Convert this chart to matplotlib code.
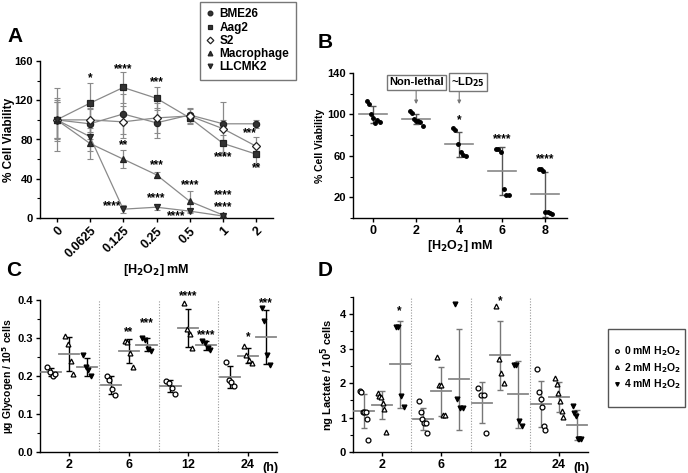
import numpy as np
import matplotlib
matplotlib.use('Agg')
import matplotlib.pyplot as plt
from matplotlib.ticker import MultipleLocator, FormatStrFormatter
from matplotlib.patches import Rectangle

plt.rcParams['font.family'] = ['Liberation Sans', 'DejaVu Sans']
plt.rcParams['font.weight'] = 'bold'
plt.rcParams['axes.labelweight'] = 'bold'
plt.rcParams['font.size'] = 8

# ---------------- Panel A data ----------------
a_conc = ['0', '0.0625', '0.125', '0.25', '0.5', '1', '2']
a_series = ['BME26', 'Aag2', 'S2', 'Macrophage', 'LLCMK2']
a_mean = {
    'BME26':      [100, 96, 106, 97, 105, 96, 96],
    'Aag2':       [100, 117, 133, 122, 102, 76, 65],
    'S2':         [100, 100, 98, 102, 104, 91, 73],
    'Macrophage': [100, 76, 60, 44, 17, 3, np.nan],
    'LLCMK2':     [100, 83, 9, 11, 7, 2, np.nan],
}
a_err = {
    'BME26':      [18, 15, 20, 15, 6, 4, 4],
    'Aag2':       [32, 21, 16, 12, 5, 9, 9],
    'S2':         [20, 12, 16, 15, 8, 27, 10],
    'Macrophage': [22, 16, 9, 3, 11, 1, 0],
    'LLCMK2':     [18, 15, 4, 3, 2, 1, 0],
}
a_markers = {'BME26': 'o', 'Aag2': 's', 'S2': 'D', 'Macrophage': '^', 'LLCMK2': 'v'}
# (category position, y, text, ha)
a_stars = [
    (1, 143, '*', 'center'), (2, 152, '****', 'center'), (3, 138, '***', 'center'),
    (2, 74, '**', 'center'), (3, 54, '***', 'center'), (4, 33, '****', 'center'),
    (1.95, 12, '****', 'right'), (3, 20, '****', 'center'), (3.6, 2, '****', 'center'),
    (5, 23, '****', 'center'), (5, 11, '****', 'center'), (5, 62, '****', 'center'),
    (5.8, 86, '***', 'center'), (6, 51, '**', 'center'),
]

# ---------------- Panel B data ----------------
b_conc = [0, 2, 4, 6, 8]
b_points = [
    [113, 110, 100, 97, 92, 95, 93],
    [103, 101, 96, 94, 94, 93, 89],
    [87, 85, 71, 64, 61, 60],
    [67, 67, 64, 28, 22, 22],
    [47, 47, 45, 6, 6, 5, 4],
]
b_stars = [(4, 94, '*'), (6, 76, '****'), (8, 57, '****')]
# (label, arrow x, box x)
b_notes = [('Non-lethal', 2, 2.0), ('~LD$_{25}$', 4, 4.4)]

# ---------------- Panel C data ----------------
times = ['2', '6', '12', '24']
doses = ['0 mM H$_2$O$_2$', '2 mM H$_2$O$_2$', '4 mM H$_2$O$_2$']
c_vals = [
    [[0.225, 0.21, 0.2, 0.205], [0.305, 0.285, 0.24, 0.205], [0.255, 0.225, 0.215, 0.2]],
    [[0.2, 0.19, 0.165, 0.15], [0.292, 0.29, 0.26, 0.225], [0.3, 0.295, 0.27, 0.265]],
    [[0.188, 0.182, 0.168, 0.153], [0.393, 0.325, 0.31, 0.273], [0.292, 0.288, 0.275, 0.268]],
    [[0.238, 0.19, 0.185, 0.175], [0.28, 0.255, 0.243, 0.235], [0.38, 0.345, 0.255, 0.23]],
]
# (time index, dose index, y, text)
c_stars = [(1, 1, 0.315, '**'), (1, 2, 0.34, '***'), (2, 1, 0.41, '****'),
           (2, 2, 0.308, '****'), (3, 1, 0.303, '*'), (3, 2, 0.392, '***')]

# ---------------- Panel D data ----------------
d_vals = [
    [[1.78, 1.75, 1.15, 1.15, 1.15, 0.95, 0.34], [1.7, 1.63, 1.6, 1.43, 1.26, 0.58], [3.62, 3.62, 1.62, 1.31]],
    [[1.48, 1.17, 0.95, 0.83, 0.83, 0.55], [2.75, 1.94, 1.94, 1.08, 1.08], [4.3, 1.55, 1.29, 1.29]],
    [[1.86, 1.65, 1.65, 0.55], [4.24, 2.69, 2.3, 1.99], [2.52, 2.52, 0.9, 0.75]],
    [[2.42, 1.75, 1.55, 1.3, 0.75, 0.63], [2.14, 1.97, 1.72, 1.48, 1.2, 1.02], [1.33, 1.12, 1.04, 0.39, 0.39, 0.39]],
]
d_stars = [(0, 2, 4.08, '*'), (2, 1, 4.38, '*')]

dose_markers = ['o', '^', 'v']
dose_fill = ['white', 'white', 'black']
offsets = [-0.3, 0.0, 0.3]

fig = plt.figure(figsize=(6.88, 4.73), dpi=100)


def style_axes(ax):
    for s in ['top', 'right']:
        ax.spines[s].set_visible(False)
    ax.spines['left'].set_linewidth(1.0)
    ax.spines['bottom'].set_linewidth(1.0)
    ax.tick_params(width=1.0, length=3, pad=2, labelsize=9)
    ax.tick_params(axis='y', labelsize=8)
    ax.tick_params(which='minor', width=0.8, length=2)
    for lbl in ax.get_xticklabels() + ax.get_yticklabels():
        lbl.set_fontweight('bold')


# ================= Panel A =================
axA = fig.add_axes([40 / 688, 255 / 473, 233 / 688, 157 / 473])
xa = np.arange(len(a_conc))
for name in a_series:
    m = np.array(a_mean[name], dtype=float)
    e = np.array(a_err[name], dtype=float)
    ok = ~np.isnan(m)
    axA.errorbar(xa[ok], m[ok], yerr=e[ok], color='#8a8a8a', lw=0.9,
                 elinewidth=0.9, capsize=2, capthick=0.8, zorder=2)
    fc = 'white' if name == 'S2' else '#333333'
    axA.plot(xa[ok], m[ok], linestyle='none', marker=a_markers[name], ms=4.5,
             mfc=fc, mec='#222222', mew=0.9, zorder=3, label=name)
for x, y, t, ha in a_stars:
    axA.text(x, y, t, ha=ha, va='center', fontsize=8.5, fontweight='bold', zorder=5)
axA.set_xlim(-0.5, 6.5)
axA.set_ylim(0, 160)
axA.set_yticks([0, 40, 80, 120, 160])
axA.yaxis.set_minor_locator(MultipleLocator(20))
axA.set_xticks(xa)
axA.set_xticklabels(a_conc, rotation=45, ha='right', rotation_mode='anchor')
axA.set_ylabel('% Cell Viability', fontsize=8.5)
axA.yaxis.set_label_coords(-25 / 233, 0.5)
axA.set_xlabel('[H$_2$O$_2$] mM', fontsize=9, labelpad=1)
style_axes(axA)
legA = fig.legend(*axA.get_legend_handles_labels(), loc='upper left',
                  bbox_to_anchor=(200 / 688, 1 - 2 / 473), frameon=True,
                  fancybox=False, edgecolor='#555555', fontsize=8.5,
                  handlelength=0.6, handletextpad=0.5, borderpad=0.55,
                  labelspacing=0.1, markerscale=0.75, borderaxespad=0)
legA.get_frame().set_linewidth(1.0)
for t in legA.get_texts():
    t.set_fontweight('bold')
fig.text(15 / 688, 1 - 36 / 473, 'A', fontsize=15, fontweight='bold', va='center', ha='center')

# ================= Panel B =================
axB = fig.add_axes([353 / 688, 255 / 473, 214 / 688, 145 / 473])
for x, pts in zip(b_conc, b_points):
    pts = np.array(pts)
    mu, sd = pts.mean(), pts.std(ddof=1)
    n = len(pts)
    jit = np.linspace(-0.3, 0.3, n) if n > 1 else [0]
    axB.errorbar(x, mu, yerr=sd, color='#555555', elinewidth=1.0, capsize=2.5,
                 capthick=1.0, fmt='none', zorder=2)
    axB.plot([x - 0.65, x + 0.65], [mu, mu], color='#888888', lw=1.2, zorder=2)
    axB.plot(x + np.array(jit), pts, 'o', color='black', ms=2.5, zorder=3)
for x, y, t in b_stars:
    axB.text(x, y, t, ha='center', va='center', fontsize=8.5, fontweight='bold')
box = dict(boxstyle='square,pad=0.2', fc='white', ec='#777777', lw=1.0)
for label, xa_, xb in b_notes:
    axB.text(xb, 131, label, ha='center', va='center', fontsize=8,
             fontweight='bold', bbox=box, zorder=4)
    axB.annotate('', xy=(xa_, 110), xytext=(xa_, 123),
                 arrowprops=dict(arrowstyle='-|>', color='#777777', lw=0.8,
                                 mutation_scale=5, shrinkA=0, shrinkB=0))
axB.set_xlim(-0.93, 9)
axB.set_ylim(0, 140)
axB.set_yticks([20, 60, 100, 140])
axB.yaxis.set_minor_locator(MultipleLocator(20))
axB.set_xticks(b_conc)
axB.set_ylabel('% Cell Viability', fontsize=7.5, labelpad=2)
axB.set_xlabel('[H$_2$O$_2$] mM', fontsize=9, labelpad=1)
style_axes(axB)
fig.text(325 / 688, 1 - 42 / 473, 'B', fontsize=15, fontweight='bold', va='center', ha='center')


# ================= Panels C and D =================
def dot_panel(ax, vals, bar_color, ms):
    for ti, groups in enumerate(vals):
        for di, pts in enumerate(groups):
            pts = np.array(pts)
            x = ti + offsets[di]
            mu, sd = pts.mean(), pts.std(ddof=1)
            ax.errorbar(x, mu, yerr=sd, color=bar_color, elinewidth=1.0, capsize=2,
                        capthick=1.0, fmt='none', zorder=2)
            ax.plot([x - 0.17, x + 0.17], [mu, mu], color='#888888', lw=1.3, zorder=3)
            n = len(pts)
            jit = np.linspace(-0.07, 0.07, n) if n > 1 else [0]
            ax.plot(x + np.array(jit), pts, linestyle='none', marker=dose_markers[di],
                    ms=ms, mfc=dose_fill[di], mec='black', mew=0.9, zorder=4,
                    label=doses[di] if ti == 0 else None, clip_on=False)
    for sep in [0.5, 1.5, 2.5]:
        ax.axvline(sep, color='#999999', lw=0.8, ls=(0, (1, 1.5)), zorder=1)
    ax.set_xlim(-0.49, 3.49)
    ax.set_xticks(range(len(times)))
    ax.set_xticklabels(times)


axC = fig.add_axes([40 / 688, 21 / 473, 237 / 688, 152 / 473])
dot_panel(axC, c_vals, 'black', 3.5)
for ti, di, y, t in c_stars:
    axC.text(ti + offsets[di], y, t, ha='center', va='center', fontsize=8.5,
             fontweight='bold', clip_on=False)
axC.set_ylim(0, 0.4)
axC.set_yticks([0.0, 0.1, 0.2, 0.3, 0.4])
axC.yaxis.set_minor_locator(MultipleLocator(0.05))
axC.yaxis.set_major_formatter(FormatStrFormatter('%.1f'))
axC.set_ylabel('µg Glycogen / 10$^5$ cells', fontsize=7.5)
axC.yaxis.set_label_coords(-24 / 237, 0.5)
style_axes(axC)
axC.text(3.24, -0.026, '(h)', ha='left', va='top', fontsize=9, fontweight='bold',
         clip_on=False)
fig.text(14 / 688, 1 - 270 / 473, 'C', fontsize=15, fontweight='bold', va='center', ha='center')

axD = fig.add_axes([353 / 688, 21 / 473, 235 / 688, 155 / 473])
dot_panel(axD, d_vals, '#777777', 3.5)
for ti, di, y, t in d_stars:
    axD.text(ti + offsets[di], y, t, ha='center', va='center', fontsize=8.5,
             fontweight='bold', clip_on=False)
axD.set_ylim(0, 4.5)
axD.set_yticks([0, 1, 2, 3, 4])
axD.yaxis.set_minor_locator(MultipleLocator(0.5))
axD.set_ylabel('ng Lactate / 10$^5$ cells', fontsize=8, labelpad=2)
style_axes(axD)
axD.text(3.24, -0.29, '(h)', ha='left', va='top', fontsize=9, fontweight='bold',
         clip_on=False)
# legend for D: plain entries inside a drawn frame
legD = fig.legend(*axD.get_legend_handles_labels(), loc='center left',
                  bbox_to_anchor=(614 / 688, 1 - 368 / 473), frameon=False,
                  fontsize=7.5, handlelength=0.5, handletextpad=0.5,
                  labelspacing=0.25, markerscale=0.75, borderaxespad=0, borderpad=0)
for t in legD.get_texts():
    t.set_fontweight('bold')
fig.patches.append(Rectangle((608 / 688, 1 - 407 / 473), 77 / 688, 78 / 473,
                             transform=fig.transFigure, fill=False,
                             ec='#555555', lw=1.0))
fig.text(325 / 688, 1 - 270 / 473, 'D', fontsize=15, fontweight='bold', va='center', ha='center')

fig.savefig('out.png', dpi=100)
